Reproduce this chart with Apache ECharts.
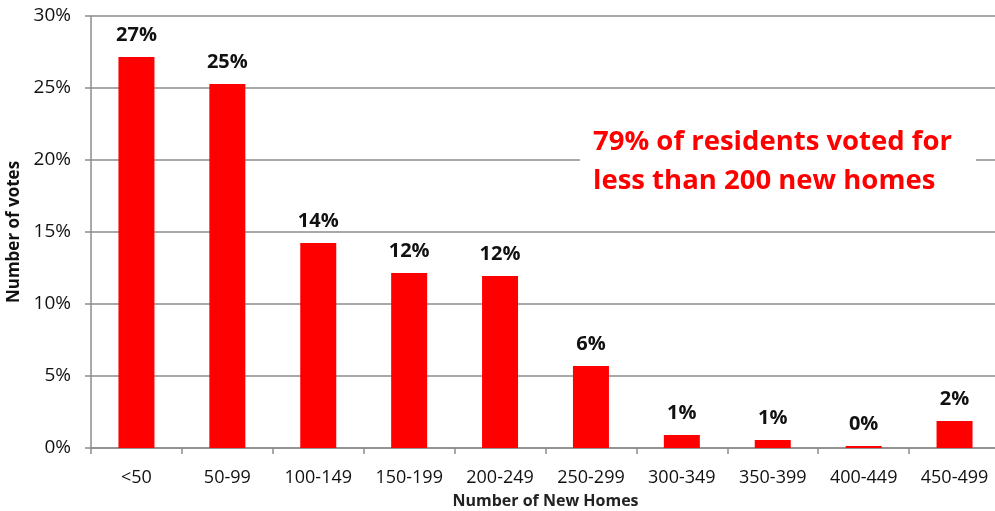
<!DOCTYPE html>
<html>
<head>
<meta charset="utf-8">
<script src="https://cdn.jsdelivr.net/npm/echarts@6/dist/echarts.min.js"></script>
<style>
  html, body { margin: 0; padding: 0; background: #fff; }
  #chart { width: 995px; height: 511px; }
</style>
</head>
<body>
<div id="chart"></div>
<script>
const categories = ['<50', '50-99', '100-149', '150-199', '200-249', '250-299', '300-349', '350-399', '400-449', '450-499']
const votes = [27.15, 25.28, 14.24, 12.15, 11.94, 5.69, 0.9, 0.56, 0.14, 1.88]
const yTicks = [0, 5, 10, 15, 20, 25, 30]
const note = ['79% of residents voted for', 'less than 200 new homes']

const font = '"Open Sans", Lato, sans-serif'
const axisGray = '#8c8c8c'

const myChart = echarts.init(document.getElementById('chart'))
const option = {
  animation: false,
  grid: { left: 91, right: -5, top: 16, bottom: 63, outerBoundsMode: 'none' },
  xAxis: {
    type: 'category',
    data: categories,
    name: 'Number of New Homes',
    nameLocation: 'middle',
    nameGap: 45,
    nameTextStyle: { fontFamily: font, fontWeight: 'bold', fontSize: 16, color: '#222' },
    axisLine: { lineStyle: { color: axisGray, width: 1.5 } },
    axisTick: { show: true, length: 6, lineStyle: { color: axisGray, width: 1.5 } },
    axisLabel: { fontFamily: font, fontSize: 18, color: '#111', margin: 21 }
  },
  yAxis: {
    type: 'value',
    min: yTicks[0],
    max: yTicks[yTicks.length - 1],
    interval: 5,
    name: 'Number of votes',
    nameLocation: 'middle',
    nameGap: 65,
    nameTextStyle: { fontFamily: font, fontWeight: 'bold', fontSize: 17, color: '#111' },
    axisLine: { show: true, lineStyle: { color: axisGray, width: 1.5 } },
    axisTick: { show: true, length: 6, lineStyle: { color: axisGray, width: 1.5 } },
    splitLine: { lineStyle: { color: axisGray, width: 1.5 } },
    axisLabel: {
      fontFamily: font, fontSize: 19, color: '#111', margin: 20,
      formatter: v => v + '%'
    }
  },
  series: [{
    type: 'bar',
    data: votes,
    barWidth: 36,
    itemStyle: { color: '#ff0000' },
    label: {
      show: true,
      position: 'top',
      distance: 12,
      fontFamily: font,
      fontWeight: 'bold',
      fontSize: 20,
      color: '#111',
      formatter: p => Math.round(p.value) + '%'
    }
  }],
  graphic: [
    {
      type: 'rect',
      left: 580, top: 118,
      shape: { width: 396, height: 84 },
      style: { fill: '#fff' },
      z: 100
    },
    {
      type: 'text',
      left: 593, top: 123,
      style: {
        text: note.join('\n'),
        fontFamily: font,
        fontWeight: 'bold',
        fontSize: 27.5,
        lineHeight: 39,
        fill: '#ff0000'
      },
      z: 101
    }
  ]
}
myChart.setOption(option)
</script>
</body>
</html>
